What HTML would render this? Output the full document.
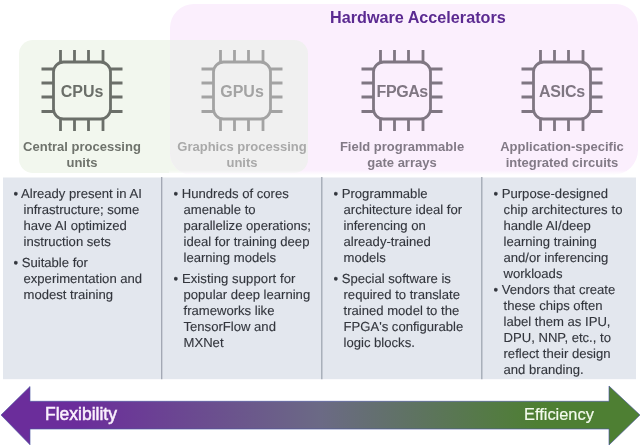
<!DOCTYPE html>
<html><head><meta charset="utf-8">
<style>
html,body{margin:0;padding:0;}
body{width:640px;height:446px;background:#fff;position:relative;overflow:hidden;font-family:"Liberation Sans",sans-serif;}
.abs{position:absolute;}
#pink{left:170px;top:4px;width:468px;height:170.5px;background:#fbeffd;border-radius:24px 22px 25px 22px;overflow:hidden;}
#green{left:19px;top:40px;width:289px;height:133px;background:#f2f7ee;border-radius:14px;}
#gray{left:-151px;top:36px;width:289px;height:133px;background:#f0f0f0;border-radius:14px;}
#title{left:330px;top:7px;font-weight:bold;font-size:16.2px;color:#5b2a91;white-space:nowrap;line-height:20px;}
.chip{position:absolute;top:49px;width:84px;height:84px;}
.clabel{position:absolute;top:83px;width:84px;text-align:center;font-weight:bold;font-size:16px;line-height:18px;}
.sub{position:absolute;top:139px;width:160px;text-align:center;font-weight:bold;font-size:13px;line-height:16px;}
#table{left:3px;top:177px;width:633px;height:202px;background:#e3e7ee;}
.vl{position:absolute;top:178px;width:1px;height:201px;background:#8a8f98;}
.col{position:absolute;top:186px;font-size:13.1px;line-height:16px;color:#33363d;text-rendering:geometricPrecision;-webkit-text-stroke:0.12px #33363d;}
.col p{margin:0 0 5px 0;padding-left:10px;text-indent:-10px;white-space:nowrap;}
</style></head><body><div id="wrap" style="position:absolute;left:0;top:0;width:640px;height:446px;filter:blur(0.4px)">
<div class="abs" id="green"></div>
<div class="abs" id="pink"><div class="abs" id="gray"></div></div>
<div class="abs" style="left:169px;top:170px;width:470px;height:6px;background:linear-gradient(to bottom,rgba(255,255,255,0),rgba(255,255,255,1) 85%)"></div>
<div class="abs" id="title">Hardware Accelerators</div>

<svg class="chip" style="left:40px" viewBox="0 0 84 84" fill="none" stroke="#6b6f69" stroke-width="2.8"><rect x="13.5" y="13" width="57" height="57" rx="10"/><path d="M20.5 1v12M34.5 1v12M48.5 1v12M63 1v12M20.5 70v12M34.5 70v12M48.5 70v12M63 70v12M1.5 20h12M1.5 34h12M1.5 48h12M1.5 62.5h12M70.5 20h12M70.5 34h12M70.5 48h12M70.5 62.5h12"/></svg>
<svg class="chip" style="left:200px" viewBox="0 0 84 84" fill="none" stroke="#a3a3a3" stroke-width="2.8"><rect x="13.5" y="13" width="57" height="57" rx="10"/><path d="M20.5 1v12M34.5 1v12M48.5 1v12M63 1v12M20.5 70v12M34.5 70v12M48.5 70v12M63 70v12M1.5 20h12M1.5 34h12M1.5 48h12M1.5 62.5h12M70.5 20h12M70.5 34h12M70.5 48h12M70.5 62.5h12"/></svg>
<svg class="chip" style="left:360px" viewBox="0 0 84 84" fill="none" stroke="#7f7682" stroke-width="2.8"><rect x="13.5" y="13" width="57" height="57" rx="10"/><path d="M20.5 1v12M34.5 1v12M48.5 1v12M63 1v12M20.5 70v12M34.5 70v12M48.5 70v12M63 70v12M1.5 20h12M1.5 34h12M1.5 48h12M1.5 62.5h12M70.5 20h12M70.5 34h12M70.5 48h12M70.5 62.5h12"/></svg>
<svg class="chip" style="left:520px" viewBox="0 0 84 84" fill="none" stroke="#7f7682" stroke-width="2.8"><rect x="13.5" y="13" width="57" height="57" rx="10"/><path d="M20.5 1v12M34.5 1v12M48.5 1v12M63 1v12M20.5 70v12M34.5 70v12M48.5 70v12M63 70v12M1.5 20h12M1.5 34h12M1.5 48h12M1.5 62.5h12M70.5 20h12M70.5 34h12M70.5 48h12M70.5 62.5h12"/></svg>

<div class="clabel" style="left:40px;color:#6b6f69">CPUs</div>
<div class="clabel" style="left:200px;color:#a3a3a3">GPUs</div>
<div class="clabel" style="left:360px;color:#7f7682;letter-spacing:-0.4px;text-indent:0.4px">FPGAs</div>
<div class="clabel" style="left:520px;color:#7f7682;letter-spacing:-0.2px">ASICs</div>

<div class="sub" style="left:2px;color:#6f736c">Central processing<br>units</div>
<div class="sub" style="left:162px;color:#a9a9a9">Graphics processing<br>units</div>
<div class="sub" style="left:322px;color:#827a86">Field programmable<br>gate arrays</div>
<div class="sub" style="left:482px;color:#827a86">Application-specific<br>integrated circuits</div>

<svg class="abs" style="left:0;top:176px" width="640" height="204" viewBox="0 0 640 204"><rect x="3" y="1.5" width="633" height="201.7" fill="#e3e7ee"/><path d="M161.7 1V203.2M321.8 1V203.2M481.8 1V203.2" stroke="#a0a6b1" stroke-width="1.3" fill="none"/></svg>

<div class="col" style="left:13.5px">
<p>• Already present in AI<br>infrastructure; some<br>have AI optimized<br>instruction sets</p>
<p>• Suitable for<br>experimentation and<br>modest training</p>
</div>
<div class="col" style="left:173.5px">
<p>• Hundreds of cores<br>amenable to<br>parallelize operations;<br>ideal for training deep<br>learning models</p>
<p><span style="letter-spacing:0.08px">• Existing support for</span><br>popular deep learning<br>frameworks like<br>TensorFlow and<br>MXNet</p>
</div>
<div class="col" style="left:333.5px">
<p>• Programmable<br>architecture ideal for<br>inferencing on<br>already-trained<br>models</p>
<p>• Special software is<br>required to translate<br>trained model to the<br>FPGA's configurable<br>logic blocks.</p>
</div>
<div class="col" style="left:493.5px">
<p>• Purpose-designed<br><span style="letter-spacing:0.09px">chip architectures to</span><br>handle AI/deep<br>learning training<br>and/or inferencing<br>workloads</p>
<p style="margin-top:-5px">• Vendors that create<br>these chips often<br>label them as IPU,<br>DPU, NNP, etc., to<br>reflect their design<br>and branding.</p>
</div>

<svg class="abs" style="left:0;top:380px" width="640" height="66" viewBox="0 0 640 66">
<defs><linearGradient id="g" x1="0" x2="1" y1="0" y2="0"><stop offset="0" stop-color="#6b2d9b"/><stop offset="0.12" stop-color="#6b2d9b"/><stop offset="0.5" stop-color="#6b6a85"/><stop offset="0.84" stop-color="#4e7f33"/><stop offset="1" stop-color="#4e7f33"/></linearGradient></defs>
<path d="M1 35L30 6.5V21.3H609V6L640 35L609 65V49H30V64.8Z" fill="url(#g)" stroke="#4a55a0" stroke-width="0.8" stroke-opacity="0.8"/>
</svg>
<div class="abs" style="left:45px;top:403px;font-size:17.5px;line-height:22px;color:#faf0fd;-webkit-text-stroke:0.5px #faf0fd;">Flexibility</div>
<div class="abs" style="left:524px;top:403px;font-size:16.4px;line-height:22px;color:#f4fbee;-webkit-text-stroke:0.2px #f4fbee;">Efficiency</div>
</div></body></html>
